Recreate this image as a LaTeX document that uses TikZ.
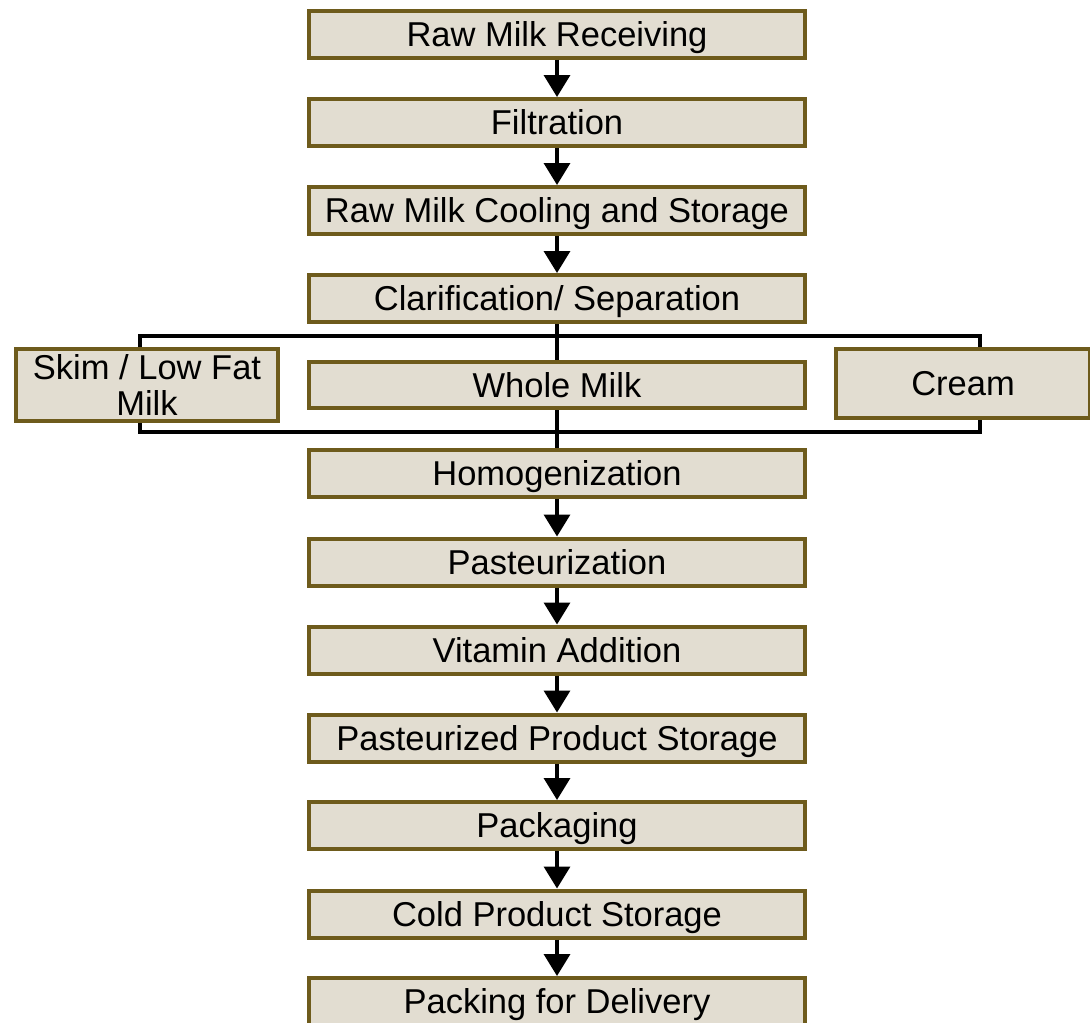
\documentclass[tikz,border=0pt]{standalone}
\usepackage{fontspec}
\setmainfont{Liberation Sans}
\usetikzlibrary{arrows.meta}
\definecolor{boxfill}{HTML}{E2DDD1}
\definecolor{boxline}{HTML}{6E5B1C}
\tikzset{
  boxbase/.style={draw=boxline, fill=boxfill, line width=4pt, inner sep=0pt,
    font=\fontsize{34.5}{36}\selectfont, text=black},
  stepbox/.style={boxbase, minimum width=496pt, minimum height=47pt,
    text height=24.5pt, text depth=0pt},
  flowarrow/.style={line width=3.5pt, -{Triangle[width=26pt,length=22pt]}},
  conn/.style={line width=3.5pt, black}
}
\begin{document}
\begin{tikzpicture}[x=1pt,y=-1pt]
\clip (0,0) rectangle (1090,1023);
\fill[white] (0,0) rectangle (1090,1023);
\node[stepbox] (n1) at (557,34) {Raw Milk Receiving};
\node[stepbox] (n2) at (557,122.5) {Filtration};
\node[stepbox] (n3) at (557,210.5) {Raw Milk Cooling and Storage};
\node[stepbox] (n4) at (557,298.5) {Clarification/ Separation};
\node[stepbox, minimum height=46pt] (whole) at (557,385) {Whole Milk};
\node[boxbase, minimum width=262pt, minimum height=72pt, align=center] (skim) at (147,385) {Skim / Low Fat\\Milk};
\node[stepbox, minimum width=254pt, minimum height=69pt] (cream) at (963,383.5) {Cream};
\node[stepbox] (n5) at (557,473) {Homogenization};
\node[stepbox] (n6) at (557,562) {Pasteurization};
\node[stepbox] (n7) at (557,650) {Vitamin Addition};
\node[stepbox] (n8) at (557,738) {Pasteurized Product Storage};
\node[stepbox] (n9) at (557,825.5) {Packaging};
\node[stepbox] (n10) at (557,914) {Cold Product Storage};
\node[stepbox] (n11) at (557,1001.5) {Packing for Delivery};
\draw[flowarrow] (n1.south) -- (n2.north);
\draw[flowarrow] (n2.south) -- (n3.north);
\draw[flowarrow] (n3.south) -- (n4.north);
\draw[flowarrow] (n5.south) -- (n6.north);
\draw[flowarrow] (n6.south) -- (n7.north);
\draw[flowarrow] (n7.south) -- (n8.north);
\draw[flowarrow] (n8.south) -- (n9.north);
\draw[flowarrow] (n9.south) -- (n10.north);
\draw[flowarrow] (n10.south) -- (n11.north);
\coordinate (tl) at (140,336);
\coordinate (tr) at (980,336);
\coordinate (bl) at (140,432);
\coordinate (br) at (980,432);
\draw[conn] (n4.south) -- (whole.north);
\draw[conn] (whole.south) -- (n5.north);
\draw[conn] (skim.north -| tl) -- (tl) -- (tr) -- (cream.north -| tr);
\draw[conn] (skim.south -| bl) -- (bl) -- (br) -- (cream.south -| br);
\end{tikzpicture}
\end{document}
